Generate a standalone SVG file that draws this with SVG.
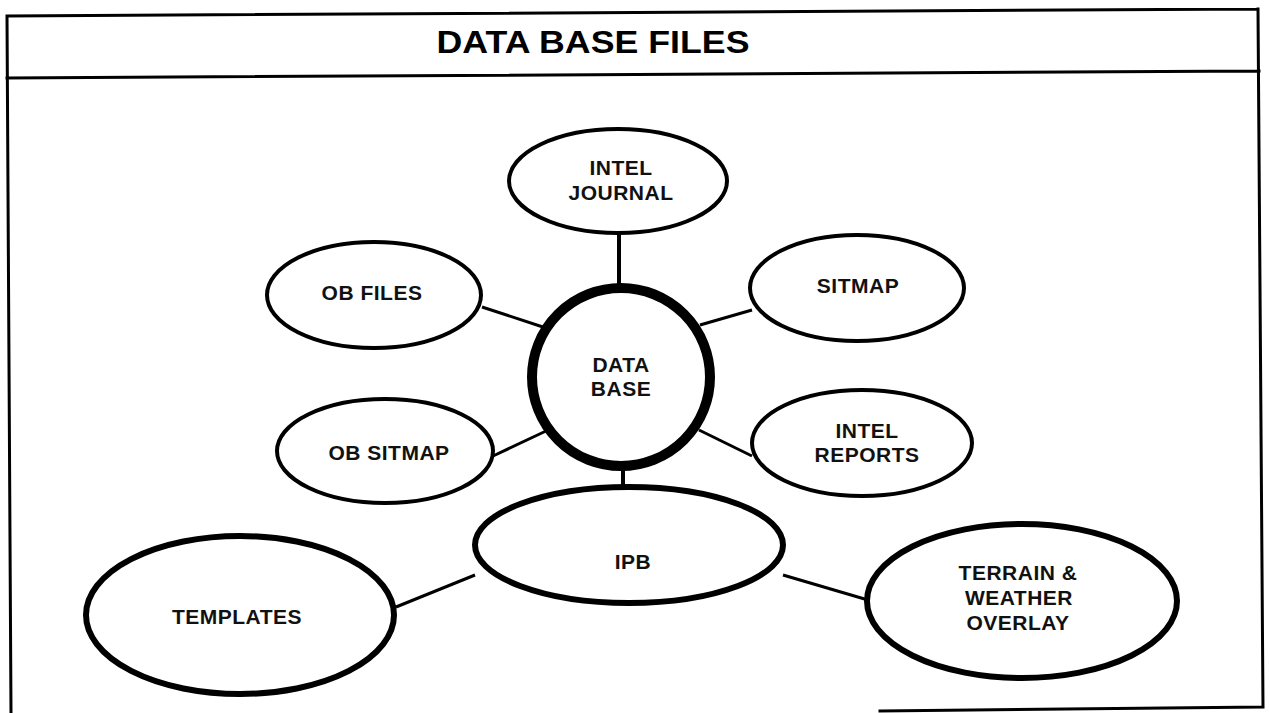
<svg xmlns="http://www.w3.org/2000/svg" width="1270" height="713" viewBox="0 0 1270 713">
<style>
.bg{fill:#fff}
.frame{stroke:#000;stroke-width:3;fill:none;stroke-linecap:square}
.title{font-family:"Liberation Sans",Arial,sans-serif;font-weight:bold;font-size:32px;fill:#000}
.lbl{font-family:"Liberation Sans",Arial,sans-serif;font-weight:bold;font-size:21px;letter-spacing:0.5px;fill:#111;text-anchor:middle}
.small{fill:#fff;stroke:#000;stroke-width:4}
.big{fill:#fff;stroke:#000;stroke-width:6}
.hub{fill:#fff;stroke:#000;stroke-width:10}
.conn line{stroke:#000;stroke-width:3}
</style>
<rect class="bg" x="0" y="0" width="1270" height="713"/>
<g id="frame">
<path class="frame" d="M7 16 L1258 9 M7 78 L1259 71 M7 16 L11 713 M1258 9 L1263 707 M880 711 L1263 707"/>
<text class="title" x="593" y="53" text-anchor="middle" textLength="313" lengthAdjust="spacingAndGlyphs">DATA BASE FILES</text>
</g>
<g id="connectors" class="conn">
<line x1="619" y1="233" x2="619" y2="287" style="stroke-width:4"/>
<line x1="482" y1="307" x2="546" y2="328"/>
<line x1="493" y1="456" x2="546" y2="431"/>
<line x1="700" y1="325" x2="752" y2="310"/>
<line x1="699" y1="430" x2="752" y2="456"/>
<line x1="623" y1="468" x2="623" y2="488" style="stroke-width:4"/>
<line x1="396" y1="607" x2="475" y2="575"/>
<line x1="783" y1="575" x2="868" y2="600"/>
</g>
<g id="intel-journal">
<ellipse class="small" cx="618" cy="181" rx="109" ry="52"/>
<text class="lbl" x="621" y="175">INTEL</text>
<text class="lbl" x="621" y="200">JOURNAL</text>
</g>
<g id="ob-files">
<ellipse class="small" cx="374" cy="295" rx="107" ry="53"/>
<text class="lbl" x="372" y="300">OB FILES</text>
</g>
<g id="sitmap">
<ellipse class="small" cx="857" cy="288" rx="107" ry="53"/>
<text class="lbl" x="858" y="293">SITMAP</text>
</g>
<g id="ob-sitmap">
<ellipse class="small" cx="385" cy="451" rx="108" ry="52"/>
<text class="lbl" x="389" y="460">OB SITMAP</text>
</g>
<g id="intel-reports">
<ellipse class="small" cx="862" cy="443" rx="110" ry="53"/>
<text class="lbl" x="867" y="438">INTEL</text>
<text class="lbl" x="867" y="462">REPORTS</text>
</g>
<g id="data-base">
<circle class="hub" cx="621" cy="377" r="89"/>
<text class="lbl" x="621" y="372">DATA</text>
<text class="lbl" x="621" y="396">BASE</text>
</g>
<g id="ipb">
<ellipse class="big" cx="629" cy="545" rx="154" ry="58"/>
<text class="lbl" x="633" y="569">IPB</text>
</g>
<g id="templates">
<ellipse class="big" cx="240" cy="615" rx="154" ry="79"/>
<text class="lbl" x="237" y="624">TEMPLATES</text>
</g>
<g id="terrain-weather">
<ellipse class="big" cx="1022" cy="601" rx="155" ry="77"/>
<text class="lbl" x="1018" y="580">TERRAIN &amp;</text>
<text class="lbl" x="1019" y="605">WEATHER</text>
<text class="lbl" x="1018" y="630">OVERLAY</text>
</g>
</svg>
